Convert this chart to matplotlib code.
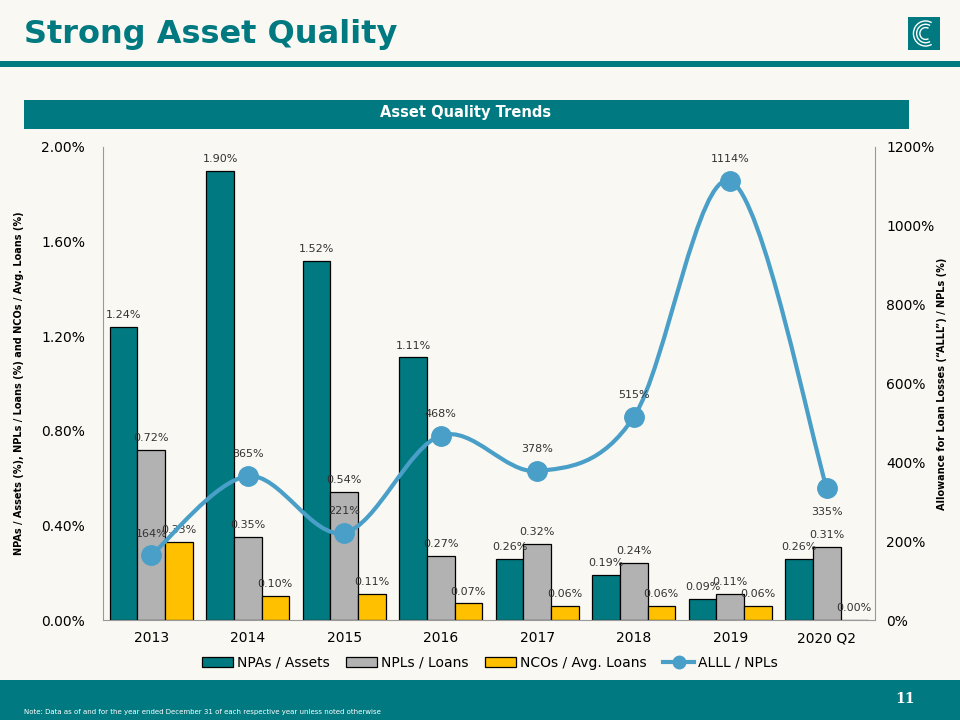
import numpy as np
import matplotlib.pyplot as plt
from matplotlib.path import Path
from matplotlib.patches import PathPatch, Rectangle, Arc
from matplotlib.lines import Line2D
from matplotlib.ticker import FuncFormatter

# datos del grafico
categories = ['2013', '2014', '2015', '2016', '2017', '2018', '2019', '2020 Q2']
npas_assets = [1.24, 1.90, 1.52, 1.11, 0.26, 0.19, 0.09, 0.26]
npls_loans = [0.72, 0.35, 0.54, 0.27, 0.32, 0.24, 0.11, 0.31]
ncos_loans = [0.33, 0.10, 0.11, 0.07, 0.06, 0.06, 0.06, 0.00]
alll_npls = [164, 365, 221, 468, 378, 515, 1114, 335]

TEAL = '#007A80'
GRAY = '#B2B2B2'
GOLD = '#FFC000'
BLUE = '#4A9FC8'
BG = '#FAF8F2'
TXT = '#333333'

fig = plt.figure(figsize=(9.6, 7.2), dpi=100, facecolor=BG)

# cabecera
fig.text(24 / 960, 1 - 35 / 720, 'Strong Asset Quality', color=TEAL, fontsize=23,
         fontweight='bold', va='center', ha='left')
fig.add_artist(Rectangle((0, 1 - 67 / 720), 1, 6 / 720, transform=fig.transFigure,
                         color=TEAL, lw=0))
fig.add_artist(Rectangle((24 / 960, 1 - 129 / 720), 885 / 960, 29 / 720,
                         transform=fig.transFigure, color=TEAL, lw=0))
fig.text(466 / 960, 1 - 113 / 720, 'Asset Quality Trends', color='white', fontsize=10.5,
         fontweight='bold', ha='center', va='center')

# logo
logo = fig.add_axes([908 / 960, 1 - 50 / 720, 32 / 960, 33 / 720])
logo.set_xlim(0, 1)
logo.set_ylim(0, 1)
logo.add_patch(Rectangle((0, 0), 1, 1, color=TEAL, lw=0))
for r in [0.18, 0.28, 0.38]:
    logo.add_patch(Arc((0.55, 0.5), 2 * r, 2 * r, theta1=60, theta2=300, color='white', lw=1))
logo.axis('off')

# pie de pagina
fig.add_artist(Rectangle((0, 0), 1, 40 / 720, transform=fig.transFigure, color=TEAL, lw=0))
fig.text(24 / 960, 1 - 712 / 720, 'Note: Data as of and for the year ended December 31 of each respective year unless noted otherwise',
         color='white', fontsize=5, va='center', ha='left')
fig.text(905 / 960, 1 - 699 / 720, '11', color='white', fontsize=10, fontweight='bold',
         family='DejaVu Serif', va='center', ha='center')

# grafico principal
ax = fig.add_axes([103 / 960, 1 - 620 / 720, 772 / 960, 473 / 720])
ax.set_facecolor(BG)
x = np.arange(len(categories))
w = 0.285

b1 = ax.bar(x - w, npas_assets, w, color=TEAL, edgecolor='black', lw=0.9, label='NPAs / Assets')
b2 = ax.bar(x, npls_loans, w, color=GRAY, edgecolor='black', lw=0.9, label='NPLs / Loans')
b3 = ax.bar(x + w, ncos_loans, w, color=GOLD, edgecolor='black', lw=0.9, label='NCOs / Avg. Loans')

for bars in (b1, b2, b3):
    for rect in bars:
        h = rect.get_height()
        ax.annotate(f'{h:.2f}%', (rect.get_x() + rect.get_width() / 2, h),
                    xytext=(0, 5), textcoords='offset points', ha='center', va='bottom',
                    fontsize=8, color=TXT, zorder=6)

ax.set_xlim(-0.5, len(categories) - 0.5)
ax.set_ylim(0, 2.0)
ax.set_yticks([0, 0.4, 0.8, 1.2, 1.6, 2.0])
ax.yaxis.set_major_formatter(FuncFormatter(lambda v, p: f'{v:.2f}%'))
ax.set_xticks(x)
ax.set_xticklabels(categories)
ax.tick_params(axis='both', length=0, labelsize=10, colors='black', pad=8)
ax.tick_params(axis='y', pad=13)
ax.spines['top'].set_visible(False)
ax.spines['left'].set_color('#999999')
ax.spines['bottom'].set_color('#999999')
ax.spines['right'].set_visible(False)
ax.set_ylabel('NPAs / Assets (%), NPLs / Loans (%) and NCOs / Avg. Loans (%)', fontsize=7,
              fontweight='bold', color='black', labelpad=12)

# eje secundario
ax2 = ax.twinx()
ax2.set_ylim(0, 1200)
ax2.set_yticks(range(0, 1201, 200))
ax2.yaxis.set_major_formatter(FuncFormatter(lambda v, p: f'{v:.0f}%'))
ax2.tick_params(axis='y', length=0, labelsize=10, colors='black', pad=8)
ax2.spines['top'].set_visible(False)
ax2.spines['left'].set_visible(False)
ax2.spines['bottom'].set_visible(False)
ax2.spines['right'].set_color('#999999')
ax2.set_ylabel('Allowance for Loan Losses (\u201cALLL\u201d) / NPLs (%)', fontsize=7,
               fontweight='bold', color='black', labelpad=2)

# linea suavizada (bezier)
pts = np.column_stack([x, alll_npls]).astype(float)
verts = [pts[0]]
codes = [Path.MOVETO]
n = len(pts)
for i in range(n - 1):
    p0 = pts[max(i - 1, 0)]
    p1 = pts[i]
    p2 = pts[i + 1]
    p3 = pts[min(i + 2, n - 1)]
    verts += [p1 + (p2 - p0) / 6, p2 - (p3 - p1) / 6, p2]
    codes += [Path.CURVE4] * 3
ax2.add_patch(PathPatch(Path(verts, codes), fill=False, edgecolor=BLUE, lw=3, zorder=4))
ax2.plot(x, alll_npls, 'o', color=BLUE, ms=14, zorder=5, label='ALLL / NPLs')

for i, v in enumerate(alll_npls):
    if i == len(alll_npls) - 1:
        ax2.annotate(f'{v}%', (x[i], v), xytext=(0, -14), textcoords='offset points',
                     ha='center', va='top', fontsize=8, color=TXT, zorder=6)
    else:
        ax2.annotate(f'{v}%', (x[i], v), xytext=(0, 12), textcoords='offset points',
                     ha='center', va='bottom', fontsize=8, color=TXT, zorder=6)

h1, l1 = ax.get_legend_handles_labels()
h2, l2 = ax2.get_legend_handles_labels()
line_handle = Line2D([0], [0], color=BLUE, lw=3, marker='o', ms=9)
fig.legend(h1 + [line_handle], l1 + l2, loc='center', bbox_to_anchor=(490 / 960, 1 - 663 / 720),
           ncol=4, frameon=False, fontsize=10, handlelength=2.2, handleheight=0.8,
           columnspacing=1.2, handletextpad=0.3)

fig.savefig('out.png', dpi=100, facecolor=BG)
